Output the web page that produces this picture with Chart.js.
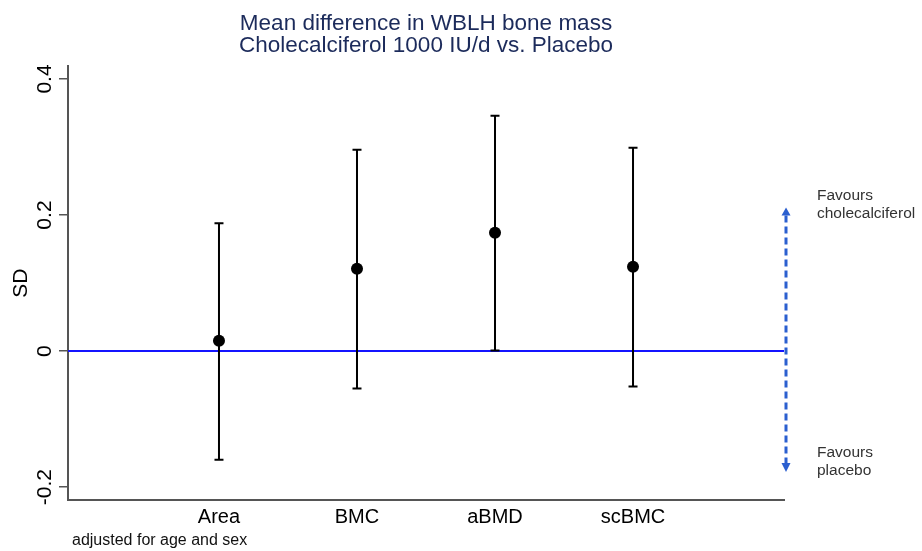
<!DOCTYPE html>
<html>
<head>
<meta charset="utf-8">
<script src="https://cdn.jsdelivr.net/npm/chart.js@4/dist/chart.umd.min.js"></script>
<style>
  html, body { margin: 0; padding: 0; background: #fff; }
  #wrap { width: 922px; height: 551px; position: relative; }
</style>
</head>
<body>
<div id="wrap"><canvas id="c"></canvas></div>
<script>
// ---- data ----
const categories = ['Area', 'BMC', 'aBMD', 'scBMC'];
const meanDiff   = [0.015, 0.121, 0.174, 0.124];
const lowerCI    = [-0.160, -0.055, 0.001, -0.052];
const upperCI    = [0.188, 0.296, 0.346, 0.299];
const yTickValues = [-0.2, 0, 0.2, 0.4];
const yTickLabels = ['-0.2', '0', '0.2', '0.4'];
const refValue = 0;
const yMin = -0.219, yMax = 0.419;
const xMin = -0.094, xMax = 5.094;
const arrowTopValue = 0.211, arrowBottomValue = -0.178;
const titleLines = ['Mean difference in WBLH bone mass', 'Cholecalciferol 1000 IU/d vs. Placebo'];
const yTitle = 'SD';
const noteText = 'adjusted for age and sex';
const favoursTop = ['Favours', 'cholecalciferol'];
const favoursBottom = ['Favours', 'placebo'];

const FONT = "'Liberation Sans', Arial, Helvetica, sans-serif";

const extras = {
  id: 'extras',
  afterDatasetDraw(chart, args) {
    if (args.index !== 0) return;
    // error bars drawn after reference line, before points
    const ctx = chart.ctx, xs = chart.scales.x, ys = chart.scales.y;
    ctx.save();
    ctx.strokeStyle = '#000';
    ctx.lineWidth = 2;
    for (let i = 0; i < categories.length; i++) {
      const px = xs.getPixelForValue(i + 1);
      const pl = ys.getPixelForValue(lowerCI[i]);
      const pu = ys.getPixelForValue(upperCI[i]);
      ctx.beginPath();
      ctx.moveTo(px, pl); ctx.lineTo(px, pu);
      ctx.moveTo(px - 4.5, pl); ctx.lineTo(px + 4.5, pl);
      ctx.moveTo(px - 4.5, pu); ctx.lineTo(px + 4.5, pu);
      ctx.stroke();
    }
    ctx.restore();
  },
  afterDraw(chart) {
    const ctx = chart.ctx, ys = chart.scales.y, area = chart.chartArea;
    ctx.save();
    // y tick labels (rotated)
    ctx.fillStyle = '#000';
    ctx.font = '21px ' + FONT;
    ctx.textAlign = 'center';
    ctx.textBaseline = 'middle';
    yTickValues.forEach((v, i) => {
      const py = ys.getPixelForValue(v);
      ctx.save();
      ctx.translate(45, py);
      ctx.rotate(-Math.PI / 2);
      ctx.fillText(yTickLabels[i], 0, 0);
      ctx.restore();
    });
    // y axis title
    ctx.save();
    ctx.translate(21, (area.top + area.bottom) / 2);
    ctx.rotate(-Math.PI / 2);
    ctx.fillText(yTitle, 0, 0);
    ctx.restore();

    // note
    ctx.textAlign = 'left';
    ctx.textBaseline = 'alphabetic';
    ctx.font = '16px ' + FONT;
    ctx.fillStyle = '#111';
    ctx.fillText(noteText, 72, 545);

    // favours text
    ctx.font = '15.5px ' + FONT;
    ctx.fillStyle = '#333';
    ctx.fillText(favoursTop[0], 817, 200);
    ctx.fillText(favoursTop[1], 817, 218);
    ctx.fillText(favoursBottom[0], 817, 457);
    ctx.fillText(favoursBottom[1], 817, 475);

    // dashed double arrow
    const ax = area.right + 2;
    const yTop = ys.getPixelForValue(arrowTopValue);
    const yBot = ys.getPixelForValue(arrowBottomValue);
    const col = '#2b5fcf';
    ctx.strokeStyle = col;
    ctx.fillStyle = col;
    ctx.lineWidth = 3;
    ctx.setLineDash([7, 4]);
    ctx.beginPath();
    ctx.moveTo(ax, yTop + 8);
    ctx.lineTo(ax, yBot - 8);
    ctx.stroke();
    ctx.setLineDash([]);
    ctx.beginPath();
    ctx.moveTo(ax, yTop); ctx.lineTo(ax - 4.5, yTop + 8); ctx.lineTo(ax + 4.5, yTop + 8); ctx.closePath();
    ctx.fill();
    ctx.beginPath();
    ctx.moveTo(ax, yBot); ctx.lineTo(ax - 4.5, yBot - 9); ctx.lineTo(ax + 4.5, yBot - 9); ctx.closePath();
    ctx.fill();
    ctx.restore();
  }
};

new Chart(document.getElementById('c'), {
  type: 'scatter',
  data: {
    datasets: [
      {
        type: 'line',
        data: [{ x: xMin, y: refValue }, { x: xMax, y: refValue }],
        borderColor: '#1414ff',
        borderWidth: 2,
        pointRadius: 0,
        fill: false,
        order: 2
      },
      {
        type: 'scatter',
        data: categories.map((c, i) => ({ x: i + 1, y: meanDiff[i] })),
        backgroundColor: '#000',
        borderColor: '#000',
        borderWidth: 0,
        pointRadius: 6,
        order: 1
      }
    ]
  },
  options: {
    responsive: true,
    maintainAspectRatio: false,
    animation: false,
    devicePixelRatio: 1,
    layout: { padding: { left: 0, right: 138, top: 0, bottom: 0 } },
    plugins: {
      legend: { display: false },
      tooltip: { enabled: false },
      title: {
        display: true,
        text: titleLines,
        fullSize: false,
        color: '#1c2b5b',
        font: { family: FONT, size: 22.5, weight: 'normal', lineHeight: 0.98 },
        padding: { top: 13, bottom: 9 }
      }
    },
    scales: {
      x: {
        type: 'linear',
        min: xMin,
        max: xMax,
        afterBuildTicks(scale) { scale.ticks = categories.map((c, i) => ({ value: i + 1 })); },
        afterFit(scale) { scale.height = 51; },
        ticks: {
          autoSkip: false,
          maxRotation: 0,
          padding: 5,
          color: '#000',
          font: { family: FONT, size: 20 },
          callback: (v) => categories[Math.round(v) - 1] || ''
        },
        grid: { display: true, drawOnChartArea: false, drawTicks: false, color: 'rgba(0,0,0,0)' },
        border: { display: true, color: '#555', width: 2 }
      },
      y: {
        type: 'linear',
        min: yMin,
        max: yMax,
        afterBuildTicks(scale) { scale.ticks = yTickValues.map(v => ({ value: v })); },
        afterFit(scale) { scale.width = 68; },
        ticks: { display: false },
        grid: { display: true, drawOnChartArea: false, drawTicks: true, tickLength: 9, color: '#555', lineWidth: 1.5 },
        border: { display: true, color: '#555', width: 2 }
      }
    }
  },
  plugins: [extras]
});
</script>
</body>
</html>
